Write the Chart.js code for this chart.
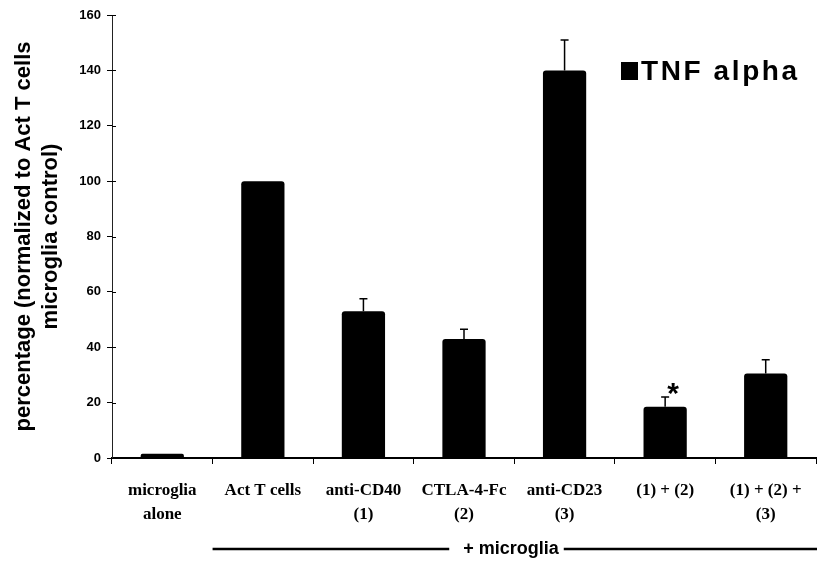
<!DOCTYPE html>
<html>
<head>
<meta charset="utf-8">
<script src="https://cdn.jsdelivr.net/npm/chart.js@4.4.1/dist/chart.umd.min.js"></script>
<style>
  html, body { margin: 0; padding: 0; background: #fff; }
  #wrap { width: 817px; height: 562px; }
</style>
</head>
<body>
<div id="wrap"><canvas id="chart" width="817" height="562"></canvas></div>
<script>
// data
const categories = [
    ['microglia', 'alone'],
    'Act T cells',
    ['anti-CD40', '(1)'],
    ['CTLA-4-Fc', '(2)'],
    ['anti-CD23', '(3)'],
    '(1) + (2)',
    ['(1) + (2) +', '(3)']
];
const tnfAlpha = [1.5, 100, 53, 43, 140, 18.5, 30.5];
const tnfError = [0, 0, 4.5, 3.5, 11, 3.5, 5];
const marks = ['', '', '', '', '', '*', ''];
const yTicks = [0, 20, 40, 60, 80, 100, 120, 140, 160];
const groupLabel = '+ microglia';

const sans = '"Liberation Sans", Arial, sans-serif';
const serif = '"Liberation Serif", "Times New Roman", serif';

// error bars, significance star, legend and the "+ microglia" bracket
const extras = {
    id: 'extras',
    afterDatasetsDraw(chart) {
        const ctx = chart.ctx;
        const y = chart.scales.y;
        const x = chart.scales.x;
        const meta = chart.getDatasetMeta(0);
        ctx.save();
        ctx.strokeStyle = '#000';
        ctx.fillStyle = '#000';

        // little right-hand halves of the y tick crosses
        ctx.lineWidth = 1;
        y.ticks.forEach(function (t) {
            const py = Math.round(y.getPixelForValue(t.value)) + 0.5;
            ctx.beginPath();
            ctx.moveTo(x.left, py);
            ctx.lineTo(x.left + 4, py);
            ctx.stroke();
        });

        ctx.lineWidth = 1.5;
        meta.data.forEach(function (bar, i) {
            if (!tnfError[i]) return;
            const top = y.getPixelForValue(tnfAlpha[i] + tnfError[i]);
            ctx.beginPath();
            ctx.moveTo(bar.x, bar.y);
            ctx.lineTo(bar.x, top);
            ctx.moveTo(bar.x - 4, top);
            ctx.lineTo(bar.x + 4, top);
            ctx.stroke();
            if (marks[i]) {
                ctx.font = 'bold 30px ' + sans;
                ctx.textAlign = 'center';
                ctx.textBaseline = 'alphabetic';
                ctx.fillText(marks[i], bar.x + 8, top + 6);
            }
        });

        // legend
        const area = chart.chartArea;
        const ds = chart.data.datasets[0];
        const lx = area.right - 195;
        const ly = area.top + 56;
        ctx.fillStyle = ds.backgroundColor;
        ctx.fillRect(lx, ly - 9, 17, 18);
        ctx.font = 'bold 28px ' + sans;
        ctx.letterSpacing = '2.6px';
        ctx.textAlign = 'left';
        ctx.textBaseline = 'middle';
        ctx.fillText(ds.label, lx + 20, ly + 1);
        ctx.letterSpacing = '0px';

        // bracket under the treated groups
        const gy = 549;
        const start = (x.getPixelForValue(0) + x.getPixelForValue(1)) / 2;
        const end = chart.width;
        ctx.font = 'bold 18px ' + sans;
        const tw = ctx.measureText(groupLabel).width;
        const tx = 511;
        ctx.textAlign = 'center';
        ctx.fillText(groupLabel, tx, gy);
        ctx.lineWidth = 2.5;
        ctx.beginPath();
        ctx.moveTo(start, gy);
        ctx.lineTo(tx - tw / 2 - 14, gy);
        ctx.moveTo(tx + tw / 2 + 5, gy);
        ctx.lineTo(end, gy);
        ctx.stroke();
        ctx.restore();
    }
};

const ctx = document.getElementById('chart').getContext('2d');
const chart = new Chart(ctx, {
    type: 'bar',
    data: {
        labels: categories,
        datasets: [{
            label: 'TNF alpha',
            data: tnfAlpha,
            backgroundColor: '#000',
            borderColor: '#000',
            borderWidth: 0,
            borderRadius: 3,
            borderSkipped: 'bottom',
            categoryPercentage: 1,
            barPercentage: 0.43
        }]
    },
    options: {
        responsive: false,
        animation: false,
        layout: { padding: { top: 15, right: 1, left: 0, bottom: 0 } },
        plugins: {
            legend: { display: false },
            tooltip: { enabled: false }
        },
        scales: {
            x: {
                afterFit: function (scale) { scale.height = 104; },
                border: { color: '#000', width: 2 },
                grid: {
                    drawOnChartArea: false,
                    drawTicks: true,
                    tickLength: 6,
                    color: '#000',
                    lineWidth: 1,
                    offset: true
                },
                ticks: {
                    color: '#000',
                    padding: 14,
                    maxRotation: 0,
                    autoSkip: false,
                    font: { family: serif, weight: 'bold', size: 17, lineHeight: 1.45 }
                }
            },
            y: {
                min: 0,
                max: 160,
                afterFit: function (scale) { scale.width = 112; },
                afterBuildTicks: function (scale) {
                    scale.ticks = yTicks.map(function (v) { return { value: v }; });
                },
                border: { color: '#222', width: 1, dash: [4, 2] },
                grid: {
                    drawOnChartArea: false,
                    drawTicks: true,
                    tickLength: 5,
                    color: '#000'
                },
                ticks: {
                    color: '#000',
                    padding: 6,
                    font: { family: sans, weight: 'bold', size: 13 }
                },
                title: {
                    display: true,
                    text: ['percentage (normalized to Act T cells', 'microglia control)'],
                    color: '#000',
                    padding: { top: 11, bottom: 0 },
                    font: { family: sans, weight: 'bold', size: 22, lineHeight: 1.22 }
                }
            }
        }
    },
    plugins: [extras]
});
</script>
</body>
</html>
